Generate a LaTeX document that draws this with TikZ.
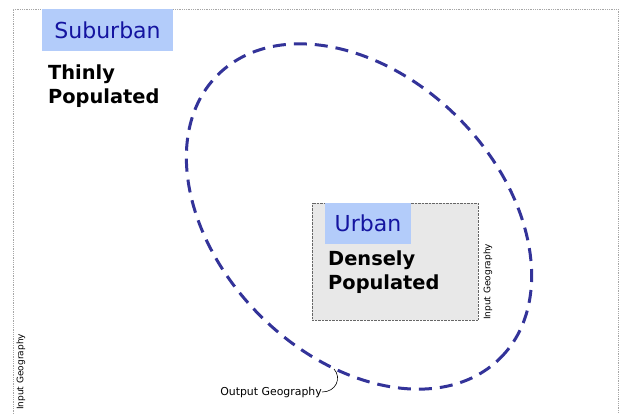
\documentclass[tikz,border=0pt]{standalone}
\usepackage{fontspec}
\setmainfont{DejaVu Sans}
\begin{document}
\begin{tikzpicture}[x=1pt,y=-1pt,
  labelbox/.style={fill=lblue,inner sep=0pt,text=navytext,font=\fontsize{22}{26}\selectfont},
  bigbold/.style={font=\bfseries\fontsize{19.4}{23.5}\selectfont,align=left,anchor=north west,inner sep=0pt},
  smalllbl/.style={font=\fontsize{9}{10}\selectfont,inner sep=0pt},
  frame/.style={draw=gray!70,densely dotted,line width=0.8pt}]
\definecolor{lblue}{RGB}{179,204,250}
\definecolor{navytext}{RGB}{20,20,160}
\definecolor{ellcol}{RGB}{51,51,153}
\definecolor{boxgray}{RGB}{232,232,232}
\useasboundingbox (0,0) rectangle (623,414);
% outer frame
\draw[frame] (13,414) -- (13,9) -- (618,9) -- (618,414);
% suburban
\node[labelbox,minimum width=131pt,minimum height=42pt] (sub) at (107.5,30) {Suburban};
\node[bigbold] (thin) at (48,65) {Thinly\\Populated};
\node[smalllbl,rotate=90,anchor=west] (ig1) at (21,410) {Input Geography};
% urban box
\node[draw=gray!80!black,densely dotted,fill=boxgray,minimum width=166pt,minimum height=117pt,inner sep=0pt] (urb) at (395,261.5) {};
\node[labelbox,minimum width=86pt,minimum height=41pt] (ulab) at (368,223.5) {Urban};
\node[bigbold] (dense) at (328,251) {Densely\\Populated};
\node[smalllbl,rotate=90,anchor=west] (ig2) at (488,320) {Input Geography};
% ellipse
\draw[ellcol,line width=3pt,dash pattern=on 13pt off 8pt,rotate around={-45:(359,216.5)}] (359,216.5) ellipse [x radius=200pt,y radius=140pt];
\coordinate (og) at (334,369);
\node[font=\fontsize{10.9}{12}\selectfont,inner sep=0pt,anchor=base east] (out) at (322,395) {Output Geography};
\draw[black,line width=0.6pt] (322,392) .. controls (336,392) and (342,378) .. (og);
\end{tikzpicture}
\end{document}
